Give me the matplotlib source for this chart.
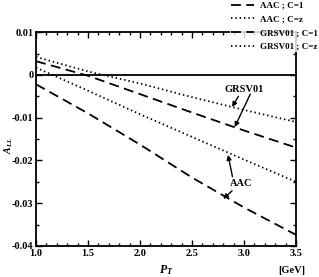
import matplotlib
matplotlib.use("Agg")
import matplotlib.pyplot as plt
from matplotlib.ticker import MultipleLocator, FixedLocator, FixedFormatter

plt.rcParams["font.family"] = ["Liberation Serif", "DejaVu Serif"]
plt.rcParams["font.weight"] = "bold"
plt.rcParams["mathtext.fontset"] = "custom"
plt.rcParams["mathtext.it"] = "Liberation Serif:italic:bold"
plt.rcParams["mathtext.rm"] = "Liberation Serif:bold"

pt = [1.0, 1.5, 2.0, 2.5, 3.0, 3.5]
aac_c1 = [-0.0022, -0.0090, -0.0163, -0.0240, -0.0310, -0.0374]
aac_cz = [0.0017, -0.0037, -0.0092, -0.0145, -0.0198, -0.0250]
grsv_c1 = [0.0032, -0.0002, -0.0045, -0.0088, -0.0130, -0.0170]
grsv_cz = [0.0042, 0.0008, -0.0020, -0.0052, -0.0082, -0.0110]

yticks = [0.01, 0.0, -0.01, -0.02, -0.03, -0.04]
ytick_labels = ["0.01", "0", "-0.01", "-0.02", "-0.03", "-0.04"]

fig = plt.figure(figsize=(3.19, 2.77), dpi=100)
ax = fig.add_axes([0.113, 0.112, 0.815, 0.772])

dash = (0, (5.5, 3))
dot = (0, (0.8, 1.6))
ax.plot(pt, aac_c1, color="black", lw=1.3, ls=dash, label="AAC ; C=1")
ax.plot(pt, aac_cz, color="black", lw=1.3, ls=dot, label="AAC ; C=z")
ax.plot(pt, grsv_c1, color="black", lw=1.3, ls=dash, label="GRSV01 ; C=1")
ax.plot(pt, grsv_cz, color="black", lw=1.3, ls=dot, label="GRSV01 ; C=z")
ax.axhline(0, color="black", lw=1.3)

ax.set_xlim(1.0, 3.5)
ax.set_ylim(-0.04, 0.01)
ax.xaxis.set_major_locator(MultipleLocator(0.5))
ax.xaxis.set_minor_locator(MultipleLocator(0.1))
ax.yaxis.set_major_locator(FixedLocator(yticks))
ax.yaxis.set_major_formatter(FixedFormatter(ytick_labels))
ax.yaxis.set_minor_locator(MultipleLocator(0.005))
ax.tick_params(which="both", direction="in", top=True, right=True,
               labelsize=7.5, width=1, pad=2)
ax.tick_params(which="major", length=4)
ax.tick_params(which="minor", length=2.5)
for s in ax.spines.values():
    s.set_linewidth(1.3)
ax.xaxis.set_major_formatter(plt.FuncFormatter(lambda v, p: f"{v:.1f}"))

ax.set_ylabel(r"$\mathit{A}_{\mathit{LL}}$", fontsize=7)
ax.yaxis.set_label_coords(-0.08, 0.47)
ax.text(0.5, -0.115, r"$\mathit{P}_{\mathit{T}}$", transform=ax.transAxes,
        ha="center", va="center", fontsize=8.5)
ax.text(0.985, -0.115, "[GeV]", transform=ax.transAxes, ha="center",
        va="center", fontsize=7.5, fontweight="bold")

arrow = dict(arrowstyle="-|>", color="black", lw=1, mutation_scale=7,
             shrinkA=0, shrinkB=0)
ax.annotate("GRSV01", xy=(2.885, -0.0075), xytext=(3.0, -0.0033),
            ha="center", va="center", fontsize=7.5, fontweight="bold",
            arrowprops=dict(arrow, relpos=(0.4, 0.0)))
ax.annotate("", xy=(2.91, -0.0122), xytext=(3.06, -0.0045),
            arrowprops=arrow)
ax.annotate("AAC", xy=(2.846, -0.0187), xytext=(2.97, -0.0255),
            ha="center", va="center", fontsize=7.5, fontweight="bold",
            arrowprops=dict(arrow, relpos=(0.15, 1.0)))
ax.annotate("", xy=(2.80, -0.0290), xytext=(2.885, -0.0271),
            arrowprops=arrow)

leg = fig.legend(*ax.get_legend_handles_labels(), loc="upper right",
                 bbox_to_anchor=(1.0, 1.0), fontsize=6.5, handlelength=2.6,
                 labelspacing=0.6, borderpad=0.1, handletextpad=0.6,
                 borderaxespad=0.05, frameon=True, fancybox=False)
leg.get_frame().set_facecolor("white")
leg.get_frame().set_edgecolor("none")
leg.set_zorder(10)

fig.savefig("out.png", dpi=100)
